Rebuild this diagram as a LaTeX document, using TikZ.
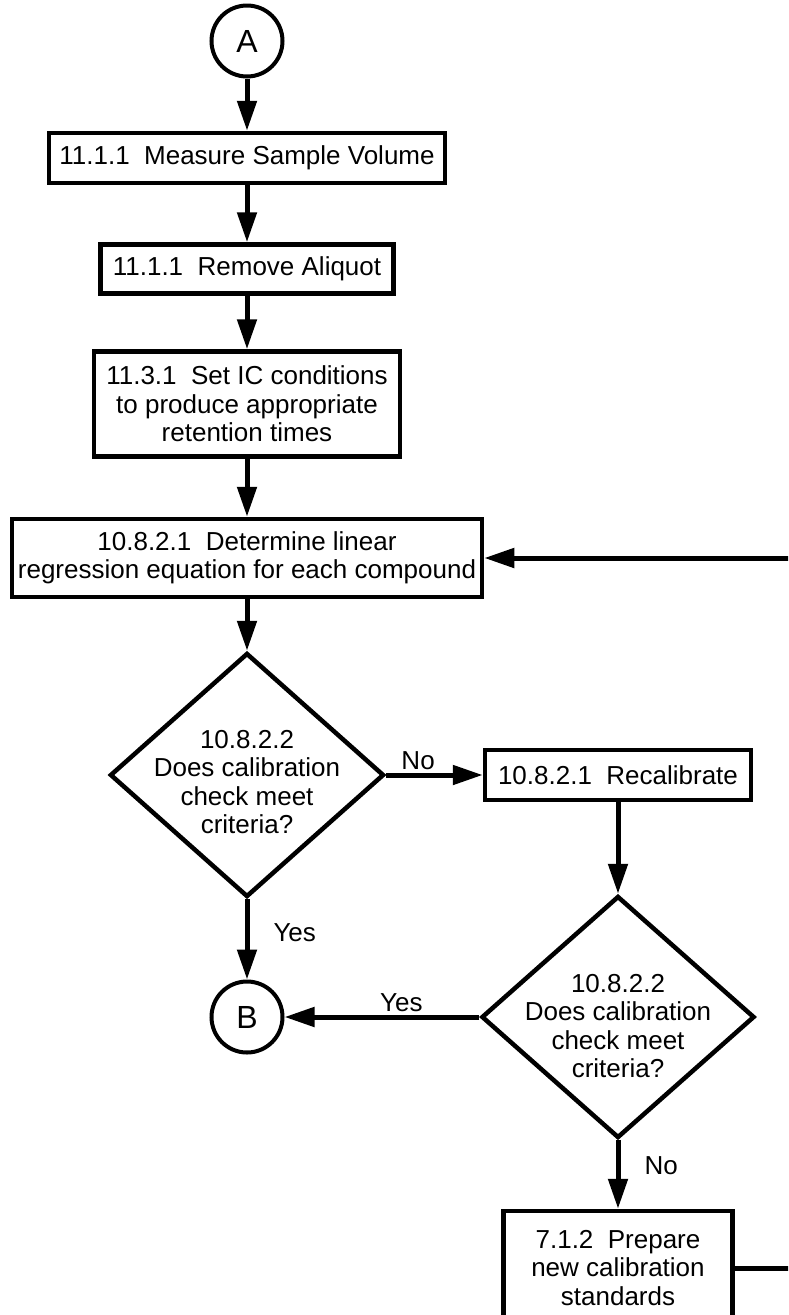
\documentclass[tikz,border=0pt]{standalone}
\usepackage{fontspec}
\setmainfont{Liberation Sans}
\usetikzlibrary{arrows.meta,shapes.geometric}
\begin{document}
\begin{tikzpicture}[x=1pt,y=-1pt,
  every node/.style={font=\fontsize{26}{28.5}\selectfont},
  box/.style={draw, line width=4.5pt, inner sep=0pt, align=center},
  dia/.style={draw, diamond, line width=4.5pt, inner sep=0pt},
  conn/.style={draw, circle, line width=4pt, inner sep=0pt, minimum size=71pt, font=\fontsize{32}{36}\selectfont},
  txt/.style={align=center, inner sep=0pt},
  arr/.style={line width=5pt, -{Triangle[length=30pt,width=19pt]}},
  ln/.style={line width=5pt},
  lbl/.style={inner sep=3pt}]
\useasboundingbox (0,0) rectangle (788,1315);
\clip (0,0) rectangle (788,1315);

% left column
\node[conn] (A) at (247,41) {A};
\node[box, minimum width=396pt, minimum height=50pt] (b1) at (247,158) {11.1.1\ \ Measure Sample Volume};
\node[box, minimum width=293pt, minimum height=49pt] (b2) at (247,269) {11.1.1\ \ Remove Aliquot};
\node[box, minimum width=306pt, minimum height=105pt] (b3) at (247,404) {11.3.1\ \ Set IC conditions\\to produce appropriate\\retention times};
\node[box, minimum width=470pt, minimum height=78pt] (b4) at (247,558) {10.8.2.1\ \ Determine linear\\regression equation for each compound};
\node[dia, minimum width=274pt, minimum height=244pt] (d1) at (247,775) {};
\node[txt] (d1t) at ([yshift=-7pt]d1.center) {10.8.2.2\\Does calibration\\check meet\\criteria?};
\node[conn] (B) at (247,1017) {B};

% right column
\node[box, minimum width=266pt, minimum height=50pt] (r) at (618,775) {10.8.2.1\ \ Recalibrate};
\node[dia, minimum width=273pt, minimum height=242pt] (d2) at (618,1017) {};
\node[txt] (d2t) at ([yshift=-9pt]d2.center) {10.8.2.2\\Does calibration\\check meet\\criteria?};
\node[box, minimum width=229pt, minimum height=114pt] (b7) at (618,1268) {7.1.2\ \ Prepare\\new calibration\\standards};

\coordinate (e1) at (792,558);
\coordinate (e2) at (792,1268);

% connectors
\draw[arr] (A) -- (b1);
\draw[arr] (b1) -- (b2);
\draw[arr] (b2) -- (b3);
\draw[arr] (b3) -- (b4);
\draw[arr] (b4) -- (d1.north);
\draw[arr] (e1) -- (b4.east);
\draw[arr] (d1.east) -- node[lbl, above, pos=0.33] {No} (r.west);
\draw[arr] (d1.south) -- node[lbl, right, pos=0.42, xshift=21pt] {Yes} (B.north);
\draw[arr] (r.south) -- (d2.north);
\draw[arr] (d2.west) -- node[lbl, above, pos=0.4] {Yes} (B.east);
\draw[arr] (d2.south) -- node[lbl, right, pos=0.37, xshift=21pt] {No} (b7.north);
\draw[ln] (b7.east) -- (e2);
\end{tikzpicture}
\end{document}
